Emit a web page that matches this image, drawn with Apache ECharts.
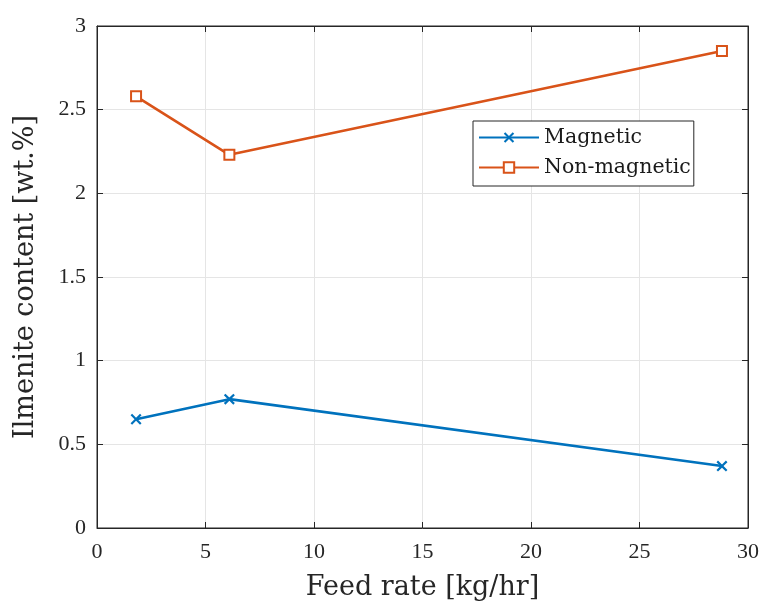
<!DOCTYPE html>
<html><head><meta charset="utf-8">
<script src="https://cdn.jsdelivr.net/npm/echarts@6/dist/echarts.min.js"></script>
<style>html,body{margin:0;padding:0;background:#fff}#c{width:761px;height:606px}</style>
</head><body><div id="c"></div>
<script>
const feedRate = [1.8, 6.1, 28.8];
const magnetic = [0.65, 0.77, 0.37];
const nonMagnetic = [2.58, 2.23, 2.85];
const seriesNames = ['Magnetic', 'Non-magnetic'];
const xTicks = [0, 5, 10, 15, 20, 25, 30];
const yTicks = [0, 0.5, 1, 1.5, 2, 2.5, 3];

const FONT = '"Liberation Serif", "DejaVu Serif", serif';
const WIDE = '"DejaVu Serif", "Liberation Serif", serif';
const crossPath = 'path://M0,1.4L1.4,0L5,3.6L8.6,0L10,1.4L6.4,5L10,8.6L8.6,10L5,6.4L1.4,10L0,8.6L3.6,5Z';
const chart = echarts.init(document.getElementById('c'));
const AX = {show: true, onZero: false, lineStyle: {color: '#262626', width: 1}};
function tick() { return {show: true, inside: true, length: 6, lineStyle: {color: '#262626', width: 1}}; }
chart.setOption({
  animation: false,
  backgroundColor: '#fff',
  grid: {left: 97, right: 13, top: 26, bottom: 78, show: true, borderColor: '#262626', borderWidth: 1, outerBoundsMode: 'none', containLabel: false},
  legend: {
    orient: 'vertical', left: 473, top: 121,
    backgroundColor: '#fff', borderColor: '#262626', borderWidth: 1,
    padding: [6, 3, 8, 5], itemGap: 9, itemWidth: 60, itemHeight: 13,
    textStyle: {fontFamily: WIDE, fontSize: 20.5, color: '#1a1a1a'},
    data: seriesNames
  },
  xAxis: [
    {type: 'value', min: 0, max: 30, interval: 5,
      name: 'Feed rate [kg/hr]', nameLocation: 'middle', nameGap: 46,
      nameTextStyle: {fontFamily: WIDE, fontSize: 27, color: '#262626'},
      axisLine: AX, axisTick: tick(),
      axisLabel: {fontFamily: FONT, fontSize: 22, color: '#262626', margin: 13,
        formatter: v => xTicks.includes(v) ? String(v) : ''},
      splitLine: {show: true, lineStyle: {color: '#e5e5e5', width: 1}}},
    {type: 'value', min: 0, max: 30, interval: 5, position: 'top',
      axisLine: AX, axisTick: tick(),
      axisLabel: {show: false}, splitLine: {show: false}}
  ],
  yAxis: [
    {type: 'value', min: 0, max: 3, interval: 0.5,
      name: 'Ilmenite content [wt.%]', nameLocation: 'middle', nameGap: 58,
      nameTextStyle: {fontFamily: WIDE, fontSize: 27, color: '#262626'},
      axisLine: AX, axisTick: tick(),
      axisLabel: {fontFamily: FONT, fontSize: 22, color: '#262626', margin: 11,
        formatter: v => yTicks.includes(v) ? String(v) : ''},
      splitLine: {show: true, lineStyle: {color: '#e5e5e5', width: 1}}},
    {type: 'value', min: 0, max: 3, interval: 0.5, position: 'right',
      axisLine: AX, axisTick: tick(),
      axisLabel: {show: false}, splitLine: {show: false}}
  ],
  series: [
    {name: seriesNames[0], type: 'line', data: feedRate.map((x, i) => [x, magnetic[i]]),
      symbol: crossPath, symbolSize: 11, showAllSymbol: true,
      lineStyle: {color: '#0072BD', width: 2.6}, itemStyle: {color: '#0072BD'}},
    {name: seriesNames[1], type: 'line', data: feedRate.map((x, i) => [x, nonMagnetic[i]]),
      symbol: 'emptyRect', symbolSize: 10, showAllSymbol: true,
      lineStyle: {color: '#D95319', width: 2.6}, itemStyle: {color: '#D95319', borderWidth: 2.4}}
  ]
});
</script></body></html>
